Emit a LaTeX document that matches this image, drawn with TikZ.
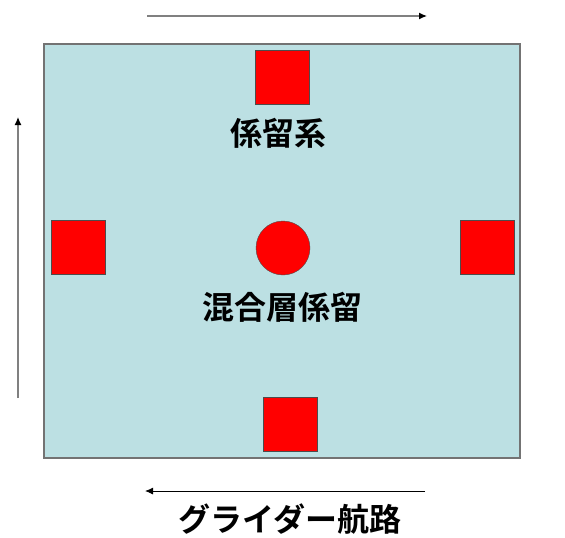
\documentclass[tikz,border=0pt]{standalone}
\usepackage{fontspec}
\usetikzlibrary{arrows.meta}
\newfontfamily\cjk{Noto Sans CJK JP Bold}
\begin{document}
\begin{tikzpicture}[x=1pt,y=-1pt,
  sq/.style={draw=black!70,fill=red,minimum size=54pt,inner sep=0pt,line width=0.6pt},
  lbl/.style={font=\cjk\fontsize{32}{34}\selectfont,inner sep=0pt},
  arr/.style={line width=1.2pt,-{Latex[length=8pt,width=7pt,color=black]}}]
\useasboundingbox (0,0) rectangle (565,538);
\node[draw=gray!90!black,line width=1.5pt,fill={rgb,255:red,188;green,224;blue,227},minimum width=476pt,minimum height=414pt,inner sep=0pt] (box) at (282,251) {};
\node[sq] (top) at (282.5,77) {};
\node[sq] (left) at (78.5,247) {};
\node[sq] (right) at (487.5,247) {};
\node[sq] (bot) at (290,424) {};
\node[circle,draw=black!70,fill=red,minimum size=54pt,inner sep=0pt] (c) at (283,248) {};
\node[lbl] (t1) at (278,133) {係留系};
\node[lbl] (t2) at (282,307) {混合層係留};
\node[lbl] (t3) at (290,519) {グライダー航路};
\coordinate (a1s) at (147,16); \coordinate (a1e) at (427,16);
\coordinate (a2s) at (18,398); \coordinate (a2e) at (18,117);
\coordinate (a3s) at (425,491); \coordinate (a3e) at (145,491);
\draw[arr,draw=gray] (a1s) -- (a1e);
\draw[arr,draw=gray] (a2s) -- (a2e);
\draw[arr,draw=black,line width=0.9pt] (a3s) -- (a3e);
\end{tikzpicture}
\end{document}
